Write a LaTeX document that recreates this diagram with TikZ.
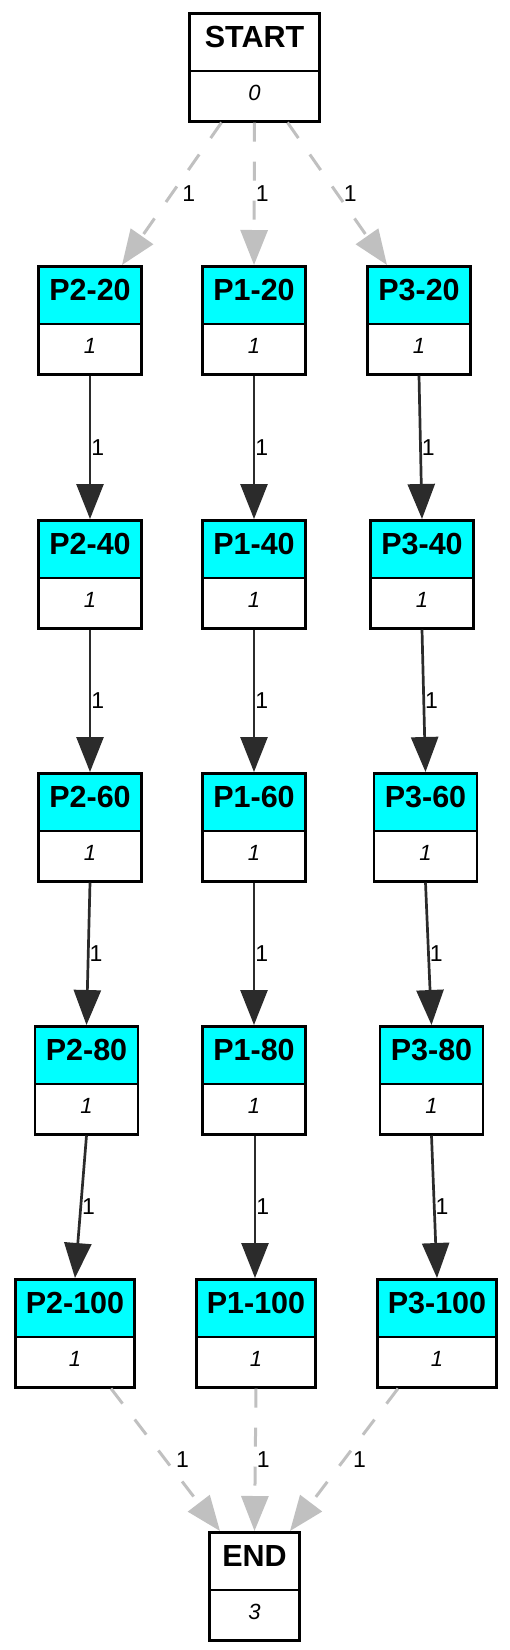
\documentclass[tikz,border=0pt]{standalone}
\usepackage{fontspec}
\setmainfont{Liberation Sans}
\usepackage{xcolor}
\usetikzlibrary{shapes.multipart,arrows.meta,positioning}

\definecolor{boxcyan}{HTML}{00FFFF}
\definecolor{edgedark}{HTML}{2B2B2B}
\definecolor{edgegray}{HTML}{C0C0C0}

\newcommand{\boxhead}[1]{\rule[-22pt]{0pt}{55pt}{\fontsize{30.5pt}{30.5pt}\selectfont\bfseries #1}}
\newcommand{\boxval}[1]{\rule[-20pt]{0pt}{48pt}{\fontsize{22pt}{22pt}\selectfont\itshape #1}}

\begin{document}
\begin{tikzpicture}[
    x=1pt, y=-1pt,
    state/.style={rectangle split, rectangle split parts=2, draw, line width=2.5pt, anchor=north, inner xsep=2pt, inner ysep=0pt, rectangle split part fill={white,white}},
    task/.style={state, minimum width=103pt, rectangle split part fill={boxcyan,white}},
    tasklong/.style={task, minimum width=119pt},
    flow/.style={draw=edgedark, line width=2.7pt, -{Triangle[length=35pt,width=27pt]}},
    skip/.style={draw=edgegray, line width=3pt, dash pattern=on 19pt off 20pt, -{Triangle[length=35pt,width=27pt]}},
    lbl/.style={midway, anchor=west, inner sep=0pt, font=\fontsize{23pt}{23pt}\selectfont}
]
    \useasboundingbox (0,0) rectangle (509,1650);

    % Start and stop
    \node [state, minimum width=130pt] (start) at (254.5,12) {\boxhead{START}\nodepart{two}\boxval{0}};
    \node [state, minimum width=90pt] (stop) at (254.5,1531) {\boxhead{END}\nodepart{two}\boxval{3}};

    % Column P2
    \node [task] (p2_20) at (90,265) {\boxhead{P2-20}\nodepart{two}\boxval{1}};
    \node [task] (p2_40) at (90,519) {\boxhead{P2-40}\nodepart{two}\boxval{1}};
    \node [task] (p2_60) at (90,772) {\boxhead{P2-60}\nodepart{two}\boxval{1}};
    \node [task] (p2_80) at (86.5,1025) {\boxhead{P2-80}\nodepart{two}\boxval{1}};
    \node [tasklong] (p2_100) at (75,1278) {\boxhead{P2-100}\nodepart{two}\boxval{1}};

    % Column P1
    \node [task] (p1_20) at (254,265) {\boxhead{P1-20}\nodepart{two}\boxval{1}};
    \node [task] (p1_40) at (254,519) {\boxhead{P1-40}\nodepart{two}\boxval{1}};
    \node [task] (p1_60) at (254,772) {\boxhead{P1-60}\nodepart{two}\boxval{1}};
    \node [task] (p1_80) at (254,1025) {\boxhead{P1-80}\nodepart{two}\boxval{1}};
    \node [tasklong] (p1_100) at (256,1278) {\boxhead{P1-100}\nodepart{two}\boxval{1}};

    % Column P3
    \node [task] (p3_20) at (419,265) {\boxhead{P3-20}\nodepart{two}\boxval{1}};
    \node [task] (p3_40) at (422,519) {\boxhead{P3-40}\nodepart{two}\boxval{1}};
    \node [task] (p3_60) at (425.5,772) {\boxhead{P3-60}\nodepart{two}\boxval{1}};
    \node [task] (p3_80) at (431.5,1025) {\boxhead{P3-80}\nodepart{two}\boxval{1}};
    \node [tasklong] (p3_100) at (437,1278) {\boxhead{P3-100}\nodepart{two}\boxval{1}};

    % Connections from start
    \draw [skip] ([xshift=-33pt]start.south) -- node[lbl, xshift=9pt] {1} ([xshift=32pt]p2_20.north);
    \draw [skip] (start.south) -- node[lbl] {1} (p1_20.north);
    \draw [skip] ([xshift=33pt]start.south) -- node[lbl, xshift=5pt] {1} ([xshift=-32pt]p3_20.north);

    % Connections along the columns
    \draw [flow] (p2_20.south) -- node[lbl] {1} (p2_40.north);
    \draw [flow] (p2_40.south) -- node[lbl] {1} (p2_60.north);
    \draw [flow] (p2_60.south) -- node[lbl] {1} (p2_80.north);
    \draw [flow] (p2_80.south) -- node[lbl] {1} (p2_100.north);
    \draw [flow] (p1_20.south) -- node[lbl] {1} (p1_40.north);
    \draw [flow] (p1_40.south) -- node[lbl] {1} (p1_60.north);
    \draw [flow] (p1_60.south) -- node[lbl] {1} (p1_80.north);
    \draw [flow] ([xshift=1pt]p1_80.south) -- node[lbl] {1} ([xshift=-1pt]p1_100.north);
    \draw [flow] (p3_20.south) -- node[lbl] {1} (p3_40.north);
    \draw [flow] (p3_40.south) -- node[lbl] {1} (p3_60.north);
    \draw [flow] (p3_60.south) -- node[lbl] {1} (p3_80.north);
    \draw [flow] (p3_80.south) -- node[lbl] {1} (p3_100.north);

    % Connections to stop
    \draw [skip] ([xshift=36pt]p2_100.south) -- node[lbl, xshift=9pt] {1} ([xshift=-34.5pt]stop.north);
    \draw [skip] (p1_100.south) -- node[lbl] {1} (stop.north);
    \draw [skip] ([xshift=-39pt]p3_100.south) -- node[lbl, xshift=7.5pt] {1} ([xshift=35.5pt]stop.north);
\end{tikzpicture}
\end{document}
